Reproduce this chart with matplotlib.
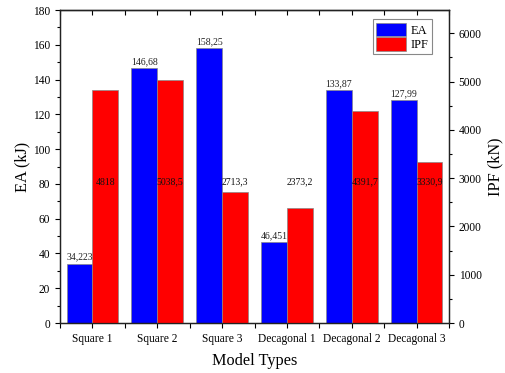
import matplotlib.pyplot as plt
import numpy as np
from matplotlib.ticker import MultipleLocator

plt.rcParams['font.family'] = ['Liberation Serif', 'DejaVu Serif']

models = ['Square 1', 'Square 2', 'Square 3', 'Decagonal 1', 'Decagonal 2', 'Decagonal 3']
ea = [34.223, 146.68, 158.25, 46.451, 133.87, 127.99]
ipf = [4818, 5038.5, 2713.3, 2373.2, 4391.7, 3330.9]
ea_labels = ['34,223', '146,68', '158,25', '46,451', '133,87', '127,99']
ipf_labels = ['4818', '5038,5', '2713,3', '2373,2', '4391,7', '3330,9']

fig = plt.figure(figsize=(5.05, 3.73), dpi=100)
ax = fig.add_axes([0.119, 0.134, 0.770, 0.839])
ax2 = ax.twinx()

x = np.arange(len(models))
w = 0.4
b1 = ax.bar(x - w / 2, ea, w, color='#0000ff', edgecolor='#888888', linewidth=0.5, label='EA')
b2 = ax2.bar(x + w / 2, ipf, w, color='#ff0000', edgecolor='#888888', linewidth=0.5, label='IPF')

# value labels, drawn on the twin axes so they sit above both bar sets
ratio = 6480 / 180
for xi, v, s in zip(x, ea, ea_labels):
    ax2.text(xi - w / 2, (v + 1.0) * ratio, s, ha='center', va='bottom', fontsize=7, color='#222222')
for xi, s in zip(x, ipf_labels):
    ax2.text(xi + w / 2, 81 * ratio, s, ha='center', va='center', fontsize=7, color='#111111')

ax.set_xlim(-0.5, 5.5)
ax.set_ylim(0, 180)
ax2.set_ylim(0, 6480)

ax.set_xticks(x)
ax.set_xticklabels(models, fontsize=8.3)
ax.xaxis.set_minor_locator(MultipleLocator(0.5))
ax.yaxis.set_major_locator(MultipleLocator(20))
ax.yaxis.set_minor_locator(MultipleLocator(10))
ax2.yaxis.set_major_locator(MultipleLocator(1000))
ax2.yaxis.set_minor_locator(MultipleLocator(500))

ax.tick_params(axis='x', which='both', direction='out', length=3.5, width=0.8)
ax.tick_params(axis='y', which='major', direction='out', length=3.5, width=0.8, labelsize=8.3)
ax.tick_params(axis='y', which='minor', direction='out', length=2, width=0.8)
ax2.tick_params(axis='y', which='major', direction='out', length=3.5, width=0.8, labelsize=8.3)
ax2.tick_params(axis='y', which='minor', direction='out', length=2, width=0.8)

# inward ticks along the top edge
top = ax.secondary_xaxis('top')
top.set_xticks(np.arange(-0.5, 5.6, 0.5))
top.tick_params(axis='x', direction='in', length=3.5, width=0.8, labeltop=False)

for a in (ax, ax2):
    for sp in a.spines.values():
        sp.set_linewidth(0.9)
        sp.set_color('#222222')
top.spines['top'].set_linewidth(0.9)
top.spines['top'].set_color('#222222')

ax.set_xlabel('Model Types', fontsize=11.7, labelpad=6)
ax.set_ylabel('EA (kJ)', fontsize=11.7, labelpad=2)
ax2.set_ylabel('IPF (kN)', fontsize=11.7, labelpad=4)

leg = ax2.legend([b1, b2], ['EA', 'IPF'], loc='upper right', bbox_to_anchor=(0.956, 0.97),
                 fontsize=9, fancybox=False, edgecolor='#888888', framealpha=1,
                 handlelength=2.4, handleheight=1.3, borderpad=0.25, labelspacing=0.05,
                 handletextpad=0.35, borderaxespad=0.0)
leg.get_frame().set_linewidth(0.8)

fig.savefig('out.png', dpi=100)
